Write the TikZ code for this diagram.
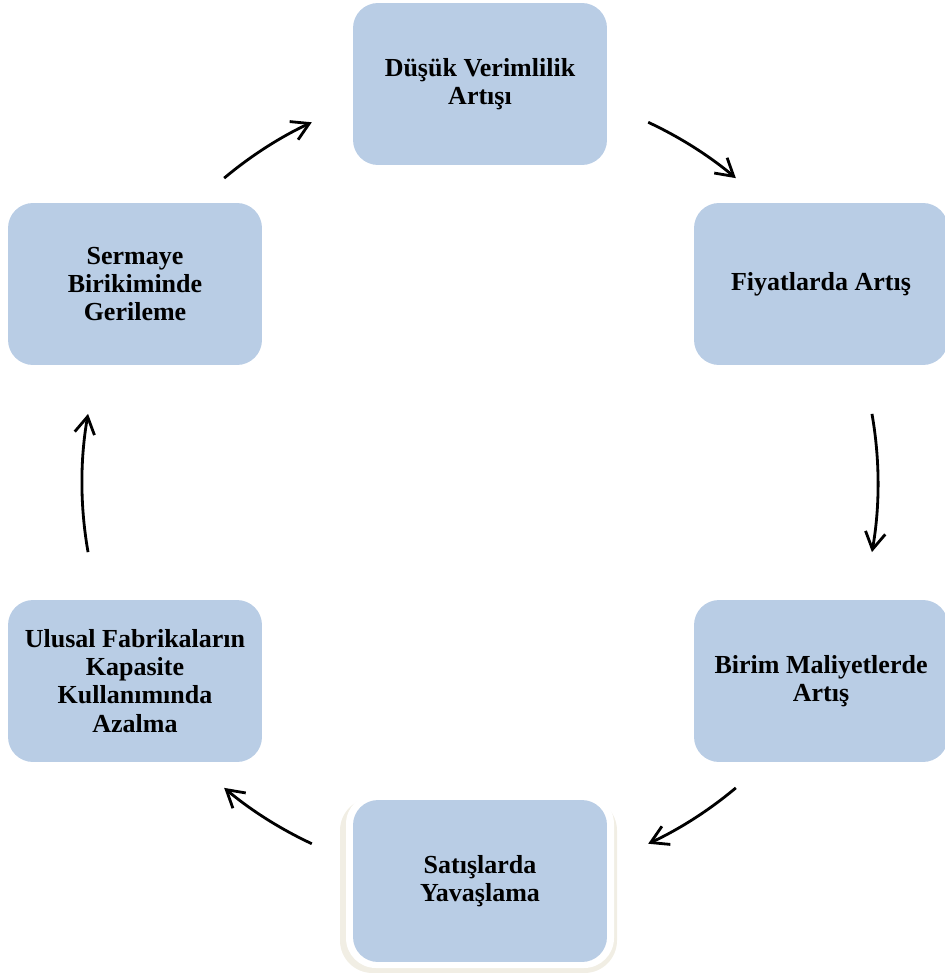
\documentclass[tikz,border=0pt]{standalone}
\usepackage{fontspec}
\setmainfont{Liberation Serif}
\usetikzlibrary{arrows.meta}
\definecolor{boxblue}{HTML}{B9CDE5}
\definecolor{shadowtan}{HTML}{F1EEE4}
\tikzset{
  stage/.style = {
    rectangle, rounded corners=0.5cm, fill=boxblue,
    minimum width=5.08cm, minimum height=3.24cm,
    align=center, font=\fontsize{14.8}{16}\selectfont\bfseries
  },
  cyc/.style = {
    line width=1.6pt,
    -{Straight Barb[length=3.4mm, width=4mm, line width=1.6pt]}
  }
}

\begin{document}
\begin{tikzpicture}[x=0.02cm, y=-0.02cm]
\useasboundingbox (0,0) rectangle (945,973);
\coordinate (ctr) at (480,483);
% the six stages of the cycle
\node[stage] (dusuk)   at (480,84)  {Düşük Verimlilik\\Artışı};
\node[stage] (fiyat)   at (821,284) {Fiyatlarda Artış};
\node[stage] (birim)   at (821,681) {Birim Maliyetlerde\\Artış};
\fill[shadowtan, rounded corners=0.65cm] (340,798) rectangle (617,973); % soft shadow
\fill[white, rounded corners=0.6cm] (346,794) rectangle (614,968);
\node[stage] (satis)   at (480,881) {Satışlarda\\Yavaşlama};
\node[stage] (ulusal)  at (135,681) {Ulusal Fabrikaların\\Kapasite\\Kullanımında\\Azalma};
\node[stage] (sermaye) at (135,284) {Sermaye\\Birikiminde\\Gerileme};
% arrows sit on one big circle round the centre (y runs down, so angles flip)
\foreach \s/\e [count=\i] in {130/115, 65/50, 10/-10, -50/-65, -115/-130, 190/170}
{
  \path (ctr) ++(-\s:398) coordinate (a\i);
  \draw[cyc] (a\i) arc[start angle=-\s, end angle=-\e, radius=398];
}
\end{tikzpicture}
\end{document}
